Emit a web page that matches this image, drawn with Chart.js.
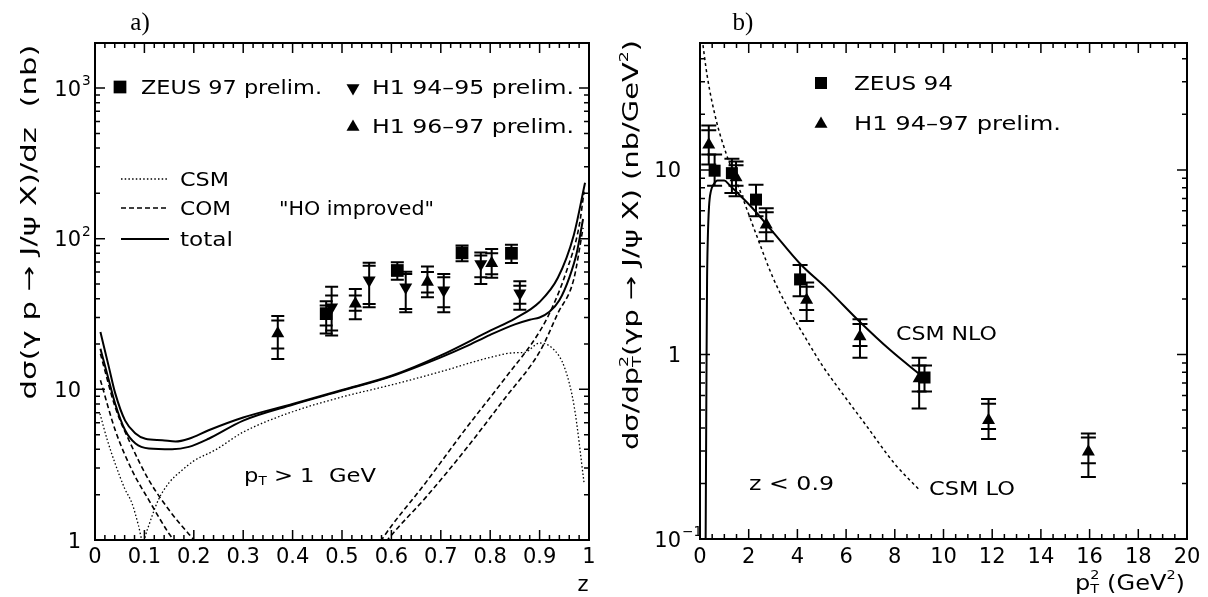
<!DOCTYPE html>
<html><head><meta charset="utf-8">
<script src="https://cdn.jsdelivr.net/npm/chart.js@4.4.0/dist/chart.umd.min.js"></script>
<style>
html,body{margin:0;padding:0;background:#fff;}
#wrap{position:relative;width:1208px;height:597px;overflow:hidden;}
canvas{position:absolute;top:0;}
</style></head><body>
<div id="wrap"><canvas id="ca" width="604" height="597" style="left:0"></canvas><canvas id="cb" width="604" height="597" style="left:604px"></canvas></div>
<script>
// ================= Panel a data =================
const xTicksA = [0,0.1,0.2,0.3,0.4,0.5,0.6,0.7,0.8,0.9,1];
const xTickLabelsA = ['0','0.1','0.2','0.3','0.4','0.5','0.6','0.7','0.8','0.9','1'];
const yTicksA = [1,10,100,1000];
const yTickLabelsA = ['1','10','10^2','10^3'];

const zZeus97 = [0.468, 0.612, 0.743, 0.843];
const vZeus97 = [31.8, 61.5, 80.5, 80.0];
const zeus97StatLo = [26.5, 53.3, 70.7, 69.0];
const zeus97StatHi = [36.0, 69.7, 90.0, 91.0];
const zeus97TotLo = [23.5, 53.3, 70.7, 69.0];
const zeus97TotHi = [38.5, 69.7, 90.0, 91.0];

const zH1a = [0.479, 0.555, 0.629, 0.706, 0.781, 0.860];
const vH1a = [35.1, 53.0, 47.6, 45.5, 68.0, 43.5];
const h1aStatLo = [24.6, 36.9, 34.2, 35.1, 55.4, 37.0];
const h1aStatHi = [42.0, 66.2, 58.4, 55.4, 77.2, 48.8];
const h1aTotLo = [22.8, 35.1, 32.5, 32.5, 50.1, 33.7];
const h1aTotHi = [48.0, 69.3, 60.4, 58.4, 81.1, 52.1];

const zH1b = [0.370, 0.527, 0.673, 0.803];
const vH1b = [23.5, 37.0, 51.5, 68.7];
const h1bStatLo = [18.7, 33.3, 44.0, 58.0];
const h1bStatHi = [28.6, 42.0, 60.0, 80.0];
const h1bTotLo = [15.9, 29.2, 40.8, 55.0];
const h1bTotHi = [30.7, 46.4, 65.4, 85.5];

const zCsm = [0.01,0.025,0.041,0.06,0.075,0.088,0.097,0.105,0.128,0.15,0.176,0.2,0.243,0.3,0.4,0.5,0.6,0.7,0.8,0.85,0.87,0.9,0.93,0.95,0.97,0.99];
const vCsm = [6.9,4.6,3.2,2.2,1.75,1.25,0.97,1.15,1.84,2.4,2.9,3.35,3.95,5.2,7.1,8.9,10.7,13.1,16.3,17.5,17.6,20.3,18.2,14.1,7.7,2.4];

const zTotU = [0.011,0.028,0.041,0.061,0.082,0.102,0.136,0.163,0.19,0.23,0.3,0.4,0.5,0.6,0.7,0.8,0.85,0.9,0.937,0.969,0.992];
const vTotU = [24,14.1,9.4,6.2,5.1,4.7,4.6,4.5,4.7,5.35,6.5,8.0,9.9,12.3,16.8,24.5,29.5,38,55,105,235];
const zTotL = [0.011,0.028,0.041,0.061,0.082,0.109,0.156,0.19,0.23,0.3,0.4,0.5,0.6,0.7,0.75,0.8,0.85,0.88,0.9,0.92,0.94,0.96,0.975,0.988];
const vTotL = [18.6,11.5,8.0,5.35,4.37,4.05,4.0,4.15,4.7,6.2,7.9,9.8,12.2,16.3,19.2,23,27,29,30,32.7,39,55,80,135];

const zComLowU = [0.011,0.041,0.075,0.109,0.15,0.197,0.22];
const vComLowU = [17.2,7.6,4.15,2.5,1.58,1.03,0.85];
const zComLowL = [0.011,0.041,0.075,0.109,0.15,0.17];
const vComLowL = [11.5,5.35,2.9,1.84,1.1,0.9];
const zComHighU = [0.57,0.58,0.671,0.749,0.827,0.902,0.929,0.953,0.98,0.99];
const vComHighU = [0.88,1.0,2.44,5.4,11.5,24.8,37,59,121,205];
const zComHighL = [0.58,0.592,0.671,0.749,0.827,0.902,0.937,0.969,0.988];
const vComHighL = [0.88,1.0,1.94,3.95,8.5,18.2,32,53.5,118];

// ================= Panel b data =================
const xTicksB = [0,2,4,6,8,10,12,14,16,18,20];
const xTickLabelsB = ['0','2','4','6','8','10','12','14','16','18','20'];
const yTicksB = [0.1,1,10];
const yTickLabelsB = ['10^\u22121','1','10'];

const pt2Zeus94 = [0.6,1.31,2.3,4.11,9.22];
const vZeus94 = [9.9,9.6,6.9,2.55,0.75];
const zeus94Lo = [8.2,7.5,5.6,2.07,0.63];
const zeus94Hi = [12.1,11.5,8.3,3.05,0.87];

const pt2H1 = [0.36,1.48,2.72,4.38,6.57,9.0,11.85,15.95];
const vH1 = [13.7,9.1,5.05,1.97,1.25,0.74,0.44,0.297];
const h1StatLo = [12.1,8.2,4.6,1.74,1.11,0.63,0.395,0.257];
const h1StatHi = [16.4,10.6,5.9,2.33,1.46,0.87,0.54,0.355];
const h1TotLo = [10.7,7.2,4.1,1.52,0.96,0.51,0.348,0.217];
const h1TotHi = [17.4,11.1,6.2,2.45,1.55,0.96,0.574,0.373];

const pt2Nlo = [0.23,0.25,0.27,0.29,0.32,0.37,0.45,0.55,0.72,1.0,1.2,1.41,2.16,3.0,4.11,5.2,6.57,7.8,9.13];
const vNlo = [0.09,0.3,1.0,2.5,4.2,6.3,7.7,8.3,8.75,8.75,8.3,7.8,6.2,4.6,3.1,2.28,1.5,1.06,0.76];
const pt2Lo = [0.06,0.3,0.66,1.07,1.48,1.89,2.3,3.0,3.6,4.38,5.0,5.75,6.78,8.0,9.0];
const vLo = [55,32,18.7,12.3,8.8,6.3,4.5,2.6,1.8,1.2,0.88,0.64,0.42,0.255,0.185];

// ================= helpers =================
const FONT = 'DejaVu Sans';
function pts(xs, ys){ return xs.map((x,i)=>({x:x, y:ys[i]})); }
function curve(xs, ys, dash, width){
  return {data: pts(xs,ys), showLine:true, pointRadius:0, borderColor:'#000', backgroundColor:'#000',
    borderWidth:width, borderDash:dash, fill:false, cubicInterpolationMode:'monotone', clip:0};
}
function markers(xs, ys, style, r, rot){
  return {data: pts(xs,ys), showLine:false, pointStyle:style, pointRadius:r, rotation:rot||0,
    backgroundColor:'#000', borderColor:'#000', borderWidth:0, clip:false};
}
function rich(ctx, segs, x, y, size, opt){
  opt = opt || {};
  const font = opt.font || FONT;
  let cur = 0, pend = null; const parts = [];
  for (const s of segs){
    const sz = size*(s.s||1);
    ctx.font = sz + 'px "' + font + '"';
    const tw = ctx.measureText(s.t).width;
    parts.push({t:s.t, sz:sz, dy:(s.dy||0)*size, x0:cur});
    if (s.o){ pend = tw; } else { cur += Math.max(tw, pend||0); pend = null; }
  }
  const total = cur;
  const sx = opt.w ? opt.w/total : 1;
  let start = 0;
  if (opt.align === 'center') start = -total/2; else if (opt.align === 'right') start = -total;
  const base = opt.mid ? y + 0.36*size : y;
  ctx.save();
  ctx.translate(x, base); ctx.scale(sx, 1);
  ctx.fillStyle = '#000'; ctx.textBaseline = 'alphabetic'; ctx.textAlign = 'left';
  for (const p of parts){ ctx.font = p.sz + 'px "' + font + '"'; ctx.fillText(p.t, start + p.x0, p.dy); }
  ctx.restore();
}
function marker(ctx, type, x, y, r){
  ctx.save(); ctx.fillStyle='#000'; ctx.beginPath();
  if (type==='rect'){ const h = Math.SQRT1_2*r; ctx.rect(x-h, y-h, 2*h, 2*h); }
  else {
    let rad = type==='down' ? Math.PI : 0;
    for (let k=0;k<3;k++){ const px = x+Math.sin(rad)*r, py = y-Math.cos(rad)*r; if(k===0) ctx.moveTo(px,py); else ctx.lineTo(px,py); rad += 2*Math.PI/3; }
    ctx.closePath();
  }
  ctx.fill(); ctx.restore();
}
function errBars(chart, xs, sLo, sHi, tLo, tHi, capW){
  const ctx = chart.ctx, sx = chart.scales.x, sy = chart.scales.y;
  ctx.save(); ctx.strokeStyle='#000'; ctx.lineWidth=2; ctx.beginPath();
  xs.forEach((xv,i)=>{
    const px = sx.getPixelForValue(xv);
    ctx.moveTo(px, sy.getPixelForValue(tLo[i])); ctx.lineTo(px, sy.getPixelForValue(tHi[i]));
    [sLo[i], sHi[i], tLo[i], tHi[i]].forEach(v=>{ const py = sy.getPixelForValue(v); ctx.moveTo(px-capW/2, py); ctx.lineTo(px+capW/2, py); });
  });
  ctx.stroke(); ctx.restore();
}
function frameTicks(chart, xMaj, xMinStep, yMaj, ymax){
  const ctx = chart.ctx, a = chart.chartArea, sx = chart.scales.x, sy = chart.scales.y;
  const L = 10, l = 5;
  ctx.save(); ctx.strokeStyle='#000'; ctx.lineWidth=1.5; ctx.beginPath();
  const x0 = xMaj[0], x1 = xMaj[xMaj.length-1];
  for (let v = x0; v <= x1 + 1e-9; v += xMinStep){
    const p = sx.getPixelForValue(v);
    const isMaj = xMaj.some(m => Math.abs(m-v) < 1e-6);
    const len = isMaj ? L : l;
    ctx.moveTo(p, a.bottom); ctx.lineTo(p, a.bottom-len);
    ctx.moveTo(p, a.top); ctx.lineTo(p, a.top+len);
  }
  yMaj.forEach(d=>{
    for (let k=1;k<=9;k++){
      const v = d*k; if (v > ymax) break;
      const p = sy.getPixelForValue(v); const len = k===1 ? L : l;
      ctx.moveTo(a.left, p); ctx.lineTo(a.left+len, p);
      ctx.moveTo(a.right, p); ctx.lineTo(a.right-len, p);
    }
  });
  ctx.stroke();
  ctx.lineWidth = 2; ctx.strokeRect(a.left, a.top, a.right-a.left, a.bottom-a.top);
  ctx.restore();
}
function tickLabels(chart, xv, xl, yv, yl, xLabY, yBaseRight, size){
  const ctx = chart.ctx, sx = chart.scales.x, sy = chart.scales.y;
  xv.forEach((v,i)=>{ rich(ctx, [{t:xl[i]}], sx.getPixelForValue(v), xLabY, size, {align:'center', mid:true}); });
  yv.forEach((v,i)=>{
    const parts = yl[i].split('^'); const py = sy.getPixelForValue(v);
    rich(ctx, [{t:parts[0]}], yBaseRight, py, size, {align:'right', mid:true});
    if (parts[1]) rich(ctx, [{t:parts[1], s:0.65, dy:-0.5}], yBaseRight+1, py, size, {align:'left', mid:true});
  });
}
function rotTitle(ctx, segs, bx, cy, size, len){
  ctx.save(); ctx.translate(bx, cy); ctx.rotate(-Math.PI/2);
  rich(ctx, segs, 0, 0, size, {align:'center', w:len});
  ctx.restore();
}
function legendLine(ctx, x1, x2, y, dash, w){
  ctx.save(); ctx.strokeStyle='#000'; ctx.lineWidth=w; ctx.setLineDash(dash);
  ctx.beginPath(); ctx.moveTo(x1,y); ctx.lineTo(x2,y); ctx.stroke(); ctx.restore();
}

const common = {
  responsive:false, animation:false, devicePixelRatio:1, events:[],
  plugins:{legend:{display:false}, tooltip:{enabled:false}},
};

// ================= Chart a =================
new Chart(document.getElementById('ca'), {
  type:'scatter',
  data:{datasets:[
    curve(zCsm, vCsm, [1.5,2.2], 1.3),
    curve(zComLowU, vComLowU, [5,3], 1.6),
    curve(zComLowL, vComLowL, [5,3], 1.6),
    curve(zComHighU, vComHighU, [5,3], 1.6),
    curve(zComHighL, vComHighL, [5,3], 1.6),
    curve(zTotU, vTotU, [], 2),
    curve(zTotL, vTotL, [], 2),
    markers(zZeus97, vZeus97, 'rect', 9),
    markers(zH1a, vH1a, 'triangle', 7.5, 180),
    markers(zH1b, vH1b, 'triangle', 7.5, 0),
  ]},
  options:Object.assign({}, common, {
    layout:{padding:{left:95, right:15, top:43, bottom:57}},
    scales:{
      x:{type:'linear', min:0, max:1, display:false},
      y:{type:'logarithmic', min:1, max:1990, display:false}
    }
  }),
  plugins:[{
    id:'decoA',
    beforeDatasetsDraw(chart){
      errBars(chart, zZeus97, zeus97StatLo, zeus97StatHi, zeus97TotLo, zeus97TotHi, 13);
      errBars(chart, zH1a, h1aStatLo, h1aStatHi, h1aTotLo, h1aTotHi, 13);
      errBars(chart, zH1b, h1bStatLo, h1bStatHi, h1bTotLo, h1bTotHi, 13);
    },
    afterDraw(chart){
      const ctx = chart.ctx;
      frameTicks(chart, xTicksA, 0.02, yTicksA, 1990);
      tickLabels(chart, xTicksA, xTickLabelsA, yTicksA, yTickLabelsA, 555, 81, 21);
      rich(ctx, [{t:'z'}], 583, 583, 21, {align:'center', mid:true});
      rich(ctx, [{t:'a)'}], 140, 30, 25, {align:'center', font:'Liberation Serif'});
      rotTitle(ctx, [{t:'d\u03c3(\u03b3 p \u2192 J/\u03c8 X)/dz  (nb)'}], 36, 222, 21, 355);
      marker(ctx, 'rect', 120, 87, 9);
      rich(ctx, [{t:'ZEUS 97 prelim.'}], 141, 87, 20, {mid:true, w:181});
      marker(ctx, 'down', 353, 88, 7.5);
      rich(ctx, [{t:'H1 94\u201395 prelim.'}], 372, 87, 20, {mid:true, w:202});
      marker(ctx, 'up', 353, 127, 7.5);
      rich(ctx, [{t:'H1 96\u201397 prelim.'}], 372, 126, 20, {mid:true, w:202});
      legendLine(ctx, 121, 169, 179, [1.5,2.2], 1.3);
      rich(ctx, [{t:'CSM'}], 180, 179, 20, {mid:true, w:49});
      legendLine(ctx, 121, 169, 208, [5,3], 1.6);
      rich(ctx, [{t:'COM'}], 180, 208, 20, {mid:true, w:51});
      legendLine(ctx, 121, 169, 239, [], 2);
      rich(ctx, [{t:'total'}], 180, 239, 20, {mid:true, w:53});
      rich(ctx, [{t:'"HO improved"'}], 279, 208, 20, {mid:true, w:155});
      rich(ctx, [{t:'p'},{t:'T', s:0.6, dy:0.15},{t:' > 1  GeV'}], 244, 475, 20, {mid:true, w:132});
    }
  }]
});

// ================= Chart b =================
new Chart(document.getElementById('cb'), {
  type:'scatter',
  data:{datasets:[
    curve(pt2Lo, vLo, [3,3], 1.5),
    curve(pt2Nlo, vNlo, [], 2),
    markers(pt2Zeus94, vZeus94, 'rect', 8.5),
    markers(pt2H1, vH1, 'triangle', 7.5, 0),
  ]},
  options:Object.assign({}, common, {
    layout:{padding:{left:96, right:21, top:43, bottom:58}},
    scales:{
      x:{type:'linear', min:0, max:20, display:false},
      y:{type:'logarithmic', min:0.1, max:48.7, display:false}
    }
  }),
  plugins:[{
    id:'decoB',
    beforeDatasetsDraw(chart){
      errBars(chart, pt2Zeus94, zeus94Lo, zeus94Hi, zeus94Lo, zeus94Hi, 15);
      errBars(chart, pt2H1, h1StatLo, h1StatHi, h1TotLo, h1TotHi, 15);
    },
    afterDraw(chart){
      const ctx = chart.ctx;
      frameTicks(chart, xTicksB, 0.5, yTicksB, 48.7);
      tickLabels(chart, xTicksB, xTickLabelsB, yTicksB, yTickLabelsB, 555, 77, 21);
      rich(ctx, [{t:'p'},{t:'2', s:0.6, dy:-0.5, o:true},{t:'T', s:0.6, dy:0.15},{t:' (GeV'},{t:'2', s:0.6, dy:-0.5},{t:')'}], 581, 582, 21, {align:'right', mid:true, w:110});
      rich(ctx, [{t:'b)'}], 139, 30, 25, {align:'center', font:'Liberation Serif'});
      rotTitle(ctx, [{t:'d\u03c3/dp'},{t:'2', s:0.6, dy:-0.5, o:true},{t:'T', s:0.6, dy:0.15},{t:'(\u03b3p \u2192 J/\u03c8 X) (nb/GeV'},{t:'2', s:0.6, dy:-0.5},{t:')'}], 34, 245, 21, 410);
      marker(ctx, 'rect', 217, 83, 8.5);
      rich(ctx, [{t:'ZEUS 94'}], 250, 83, 20, {mid:true, w:99});
      marker(ctx, 'up', 217, 124, 7.5);
      rich(ctx, [{t:'H1 94\u201397 prelim.'}], 250, 123, 20, {mid:true, w:207});
      rich(ctx, [{t:'CSM NLO'}], 292, 333, 20, {mid:true, w:101});
      rich(ctx, [{t:'CSM LO'}], 325, 488, 20, {mid:true, w:86});
      rich(ctx, [{t:'z < 0.9'}], 145, 483, 20, {mid:true, w:85});
    }
  }]
});
</script>
</body></html>
